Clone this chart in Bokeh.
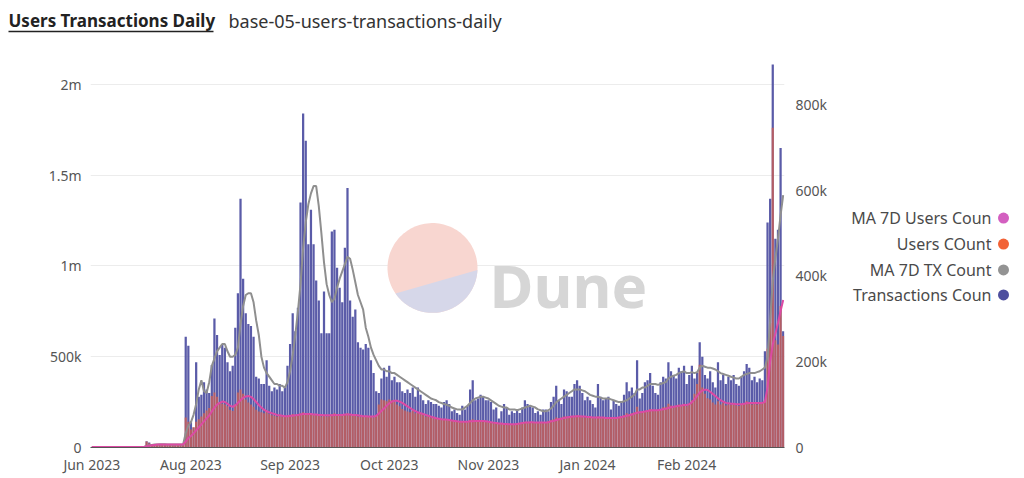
import numpy as np
from bokeh.plotting import figure
from bokeh.models import Range1d, LinearAxis, FixedTicker
from bokeh.layouts import column, row
from bokeh.embed import file_html
from bokeh.resources import INLINE
from bokeh.core.properties import value

# ---------------- data (values in thousands, one per day) ----------------
title_main = "Users Transactions Daily"
title_sub = "base-05-users-transactions-daily"
tick_labels = ["Jun 2023", "Aug 2023", "Sep 2023", "Oct 2023", "Nov 2023", "Jan 2024", "Feb 2024"]
tick_every = 38
legend_labels = ["MA 7D Users Coun", "Users COunt", "MA 7D TX Count", "Transactions Coun"]
left_ticks = [0, 500, 1000, 1500, 2000]
left_tick_labels = ["0", "500k", "1m", "1.5m", "2m"]
right_ticks = [0, 200, 400, 600, 800]
right_tick_labels = ["0", "200k", "400k", "600k", "800k"]

tx_k = [
    3, 3, 4, 3, 3, 4, 3, 3, 4, 3,
    3, 4, 3, 3, 4, 3, 3, 4, 3, 3,
    4, 35, 28, 16, 17, 15, 16, 18, 17, 16,
    15, 17, 18, 16, 17, 19, 610, 560, 145, 110,
    470, 280, 290, 360, 320, 300, 455, 710, 620, 510,
    570, 550, 470, 420, 450, 660, 850, 1370, 930, 740,
    680, 670, 610, 390, 380, 350, 350, 480, 340, 310,
    330, 320, 350, 310, 330, 450, 570, 740, 640, 770,
    1350, 1840, 1690, 1120, 1310, 1120, 920, 810, 630, 860,
    630, 630, 1190, 1200, 990, 880, 800, 1100, 1430, 810,
    720, 760, 580, 550, 540, 570, 550, 480, 410, 310,
    300, 380, 440, 390, 450, 370, 390, 360, 360, 310,
    300, 320, 300, 330, 280, 330, 290, 260, 240, 260,
    250, 240, 240, 230, 220, 250, 260, 240, 200, 210,
    190, 180, 230, 210, 230, 320, 370, 260, 270, 290,
    280, 260, 260, 250, 210, 220, 160, 200, 240, 220,
    180, 200, 190, 210, 190, 220, 260, 240, 230, 220,
    190, 200, 180, 210, 210, 200, 250, 280, 340, 260,
    240, 320, 310, 280, 280, 350, 370, 340, 300, 260,
    280, 260, 240, 220, 350, 280, 260, 270, 280, 210,
    260, 240, 230, 250, 290, 360, 310, 330, 300, 480,
    270, 300, 360, 370, 410, 340, 300, 290, 360, 390,
    380, 470, 420, 400, 380, 440, 420, 450, 350, 400,
    450, 380, 410, 580, 500, 400, 380, 420, 360, 330,
    470, 370, 400, 350, 390, 370, 400, 350, 340, 390,
    420, 460, 440, 370, 390, 360, 380, 370, 530, 1240,
    1370, 2110, 1150, 1200, 1650, 640,
]

users_k = [
    1, 1, 1, 1, 1, 1, 1, 1, 1, 1,
    1, 1, 1, 1, 1, 1, 1, 1, 1, 1,
    1, 14, 10, 7, 7, 6, 7, 8, 7, 6,
    6, 7, 8, 7, 7, 8, 70, 60, 42, 48,
    60, 66, 72, 80, 86, 92, 120, 128, 118, 105,
    102, 100, 96, 88, 85, 100, 128, 135, 125, 112,
    105, 100, 95, 88, 84, 82, 80, 85, 78, 75,
    74, 72, 74, 72, 72, 74, 76, 78, 75, 76,
    80, 82, 80, 76, 78, 77, 75, 74, 72, 76,
    72, 73, 78, 80, 77, 76, 75, 78, 80, 75,
    74, 75, 72, 72, 71, 72, 73, 71, 70, 76,
    100, 112, 110, 108, 112, 110, 106, 100, 96, 90,
    86, 84, 82, 85, 80, 82, 78, 76, 72, 74,
    70, 68, 68, 66, 65, 67, 66, 64, 62, 62,
    60, 60, 60, 59, 60, 64, 66, 62, 61, 62,
    60, 60, 59, 58, 57, 58, 55, 56, 57, 55,
    53, 54, 55, 56, 55, 58, 60, 60, 59, 58,
    57, 58, 57, 58, 59, 62, 64, 66, 70, 68,
    70, 72, 72, 71, 72, 74, 75, 73, 72, 70,
    71, 70, 69, 68, 72, 70, 69, 70, 70, 68,
    69, 68, 70, 72, 76, 80, 78, 80, 82, 95,
    80, 82, 85, 86, 90, 88, 86, 85, 90, 94,
    95, 102, 98, 96, 95, 100, 98, 102, 96, 100,
    110, 125, 148, 193, 140, 125, 115, 112, 105, 100,
    108, 100, 104, 98, 100, 99, 102, 98, 97, 100,
    104, 108, 106, 100, 102, 100, 103, 104, 110, 230,
    290, 745, 250, 240, 330, 260,
]

ma_tx_k = [
    3, 3, 3, 3, 3, 3, 3, 3, 3, 3,
    3, 3, 3, 3, 3, 3, 3, 3, 3, 3,
    3, 8, 12, 14, 16, 17, 18, 18, 18, 17,
    17, 17, 17, 17, 17, 17, 80, 120, 140, 180,
    240, 320, 370, 310, 300, 360, 450, 490, 530, 550,
    570, 570, 530, 500, 500, 510, 550, 680, 780, 840,
    850, 850, 800, 700, 620, 500, 440, 410, 390, 370,
    350, 350, 340, 340, 330, 360, 420, 510, 620, 750,
    900, 1100, 1240, 1340, 1400, 1440, 1440, 1330, 1180, 1020,
    900, 840, 800, 820, 880, 930, 970, 1010, 1050, 1040,
    980, 910, 840, 800, 760, 660, 610, 550, 510, 480,
    450, 430, 430, 420, 420, 410, 410, 400, 390, 380,
    370, 360, 350, 340, 330, 320, 310, 300, 290, 280,
    270, 265, 260, 250, 245, 240, 235, 230, 220, 215,
    210, 210, 210, 220, 230, 245, 260, 270, 275, 280,
    280, 275, 270, 260, 250, 240, 230, 225, 220, 220,
    210, 210, 210, 205, 210, 215, 220, 225, 230, 225,
    220, 210, 205, 200, 200, 205, 215, 230, 250, 260,
    270, 280, 290, 300, 310, 320, 320, 320, 315, 310,
    300, 290, 285, 280, 280, 275, 270, 270, 270, 265,
    260, 255, 250, 250, 255, 260, 270, 280, 290, 320,
    320, 330, 330, 340, 350, 350, 350, 345, 350, 355,
    360, 380, 390, 395, 400, 410, 415, 420, 410, 410,
    415, 410, 415, 440, 450, 445, 440, 440, 435, 430,
    420, 410, 405, 400, 395, 390, 385, 380, 380, 390,
    400, 405, 410, 410, 410, 415, 420, 430, 440, 500,
    700, 920, 1040, 1150, 1280, 1390,
]

ma_users_k = [
    1, 1, 1, 1, 1, 1, 1, 1, 1, 1,
    1, 1, 1, 1, 1, 1, 1, 1, 1, 1,
    1, 3, 4, 5, 6, 7, 7, 7, 7, 7,
    7, 7, 7, 7, 7, 7, 14, 22, 27, 33,
    40, 47, 54, 61, 68, 75, 84, 93, 100, 104,
    107, 106, 102, 97, 95, 98, 104, 110, 116, 119,
    120, 118, 113, 106, 99, 93, 88, 85, 82, 80,
    78, 76, 75, 74, 73, 73, 74, 74, 75, 76,
    77, 78, 78, 78, 78, 77, 77, 76, 76, 75,
    75, 75, 75, 76, 76, 76, 76, 77, 77, 77,
    76, 76, 75, 74, 73, 73, 72, 72, 72, 74,
    79, 85, 91, 97, 103, 107, 109, 109, 107, 104,
    100, 96, 92, 88, 85, 82, 80, 78, 76, 74,
    72, 70, 68, 67, 66, 65, 65, 64, 63, 62,
    61, 60, 60, 60, 60, 61, 61, 62, 62, 62,
    62, 61, 60, 59, 58, 57, 56, 56, 55, 55,
    54, 54, 54, 55, 56, 57, 58, 58, 59, 59,
    58, 58, 58, 58, 58, 59, 61, 62, 64, 66,
    67, 69, 70, 71, 72, 72, 73, 73, 72, 72,
    71, 71, 70, 70, 70, 70, 70, 69, 69, 69,
    69, 69, 70, 71, 72, 74, 75, 77, 79, 81,
    82, 83, 84, 85, 86, 87, 87, 87, 88, 89,
    90, 92, 94, 95, 96, 97, 98, 99, 99, 101,
    105, 112, 120, 128, 133, 135, 134, 130, 125, 120,
    115, 110, 107, 104, 103, 102, 102, 101, 101, 101,
    102, 103, 104, 104, 104, 104, 104, 104, 106, 140,
    200, 240, 265, 290, 318, 344,
]

# ---------------- style ----------------
FONT = "Noto Sans"
TX_BLUE = "#5a5ba8"
USER_RED = "#ee5f3a"
MA_TX_GRAY = "#8f8f8f"
MA_USER_PINK = "#dc4aa4"
LEG_COLORS = ["#d35fc0", "#f26236", "#939393", "#4e4f9e"]
LABEL_COLOR = "#555555"

N = len(tx_k)
LEFT_MAX = 2132
RIGHT_MAX = 902

TITLE_H = 42
W_MAIN, H_MAIN = 840, 434
BL, BR, BT, BB = 90, 56, 18, 28
FW, FH = W_MAIN - BL - BR, H_MAIN - BT - BB
FRAME_BOTTOM = TITLE_H + H_MAIN - BB

p = figure(width=W_MAIN, height=H_MAIN, output_backend="svg", toolbar_location=None,
           x_range=Range1d(-0.5, N - 0.5), y_range=Range1d(0, LEFT_MAX),
           min_border_left=BL, min_border_right=BR, min_border_top=BT, min_border_bottom=BB)
p.extra_y_ranges = {"users": Range1d(0, RIGHT_MAX)}
p.outline_line_color = None
p.background_fill_color = "white"
p.border_fill_color = "white"

# watermark (page pixel positions -> data coordinates)
def fx(px):
    return -0.5 + (px - BL) * N / FW

def fy(py):
    return (FRAME_BOTTOM - py) * LEFT_MAX / FH

cxp, cyp, rp = 432, 268, 45
t = np.linspace(0, 2 * np.pi, 120)
p.patch([fx(cxp + rp * np.cos(a)) for a in t], [fy(cyp - rp * np.sin(a)) for a in t],
        color="#f8d6d0", line_color=None)
t2 = np.linspace(np.radians(214.7), np.radians(357.3), 60)
p.patch([fx(cxp + rp * np.cos(a)) for a in t2], [fy(cyp - rp * np.sin(a)) for a in t2],
        color="#d6d7e9", line_color=None)
p.text(x=[fx(489)], y=[fy(285)], text=["Dune"], text_font=value(FONT),
       text_font_style="bold", text_font_size="60px", text_color="#d6d6d6",
       text_baseline="alphabetic", text_align="left")

# bars and lines
p.vbar(x=list(range(len(tx_k))), top=tx_k, width=0.86, color=TX_BLUE, line_color=None)
p.vbar(x=list(range(len(users_k))), top=users_k, width=0.86, color=USER_RED, alpha=0.6,
       line_color=None, y_range_name="users")
p.line(x=list(range(len(ma_tx_k))), y=ma_tx_k, line_color=MA_TX_GRAY, line_width=2)
p.line(x=list(range(len(ma_users_k))), y=ma_users_k, line_color=MA_USER_PINK, line_width=2,
       y_range_name="users")

# axes
xa = p.xaxis[0]
xticks = [i * tick_every for i in range(len(tick_labels))]
xa.ticker = FixedTicker(ticks=xticks)
xa.major_label_overrides = {tk: lab for tk, lab in zip(xticks, tick_labels)}
xa.axis_line_color = "#555555"
xa.major_label_standoff = 7

ya = p.yaxis[0]
ya.ticker = FixedTicker(ticks=left_ticks)
ya.major_label_overrides = {tk: lab for tk, lab in zip(left_ticks, left_tick_labels)}
ya.axis_line_color = None
ya.major_label_standoff = 9

ra = LinearAxis(y_range_name="users", ticker=FixedTicker(ticks=right_ticks))
ra.major_label_overrides = {tk: lab for tk, lab in zip(right_ticks, right_tick_labels)}
ra.axis_line_color = None
ra.major_label_standoff = 11
p.add_layout(ra, "right")

for ax in (xa, ya, ra):
    ax.major_tick_line_color = None
    ax.minor_tick_line_color = None
    ax.major_tick_out = 0
    ax.major_tick_in = 0
    ax.minor_tick_out = 0
    ax.minor_tick_in = 0
    ax.major_label_text_font = FONT
    ax.major_label_text_font_size = "14px"
    ax.major_label_text_color = LABEL_COLOR

p.xgrid.grid_line_color = None
p.ygrid.ticker = FixedTicker(ticks=left_ticks[1:])
p.ygrid.grid_line_color = "#ececec"
p.ygrid.grid_line_width = 1

# ---------------- title strip ----------------
pt = figure(width=1020, height=TITLE_H, output_backend="svg", toolbar_location=None,
            x_range=Range1d(0, 1020), y_range=Range1d(0, TITLE_H),
            x_axis_location=None, y_axis_location=None, min_border=0)
pt.outline_line_color = None
pt.grid.visible = False
pt.text(x=[8], y=[TITLE_H - 20], text=[title_main], text_font=value(FONT), text_font_style="bold",
        text_font_size="17px", text_color="#222222", text_baseline="middle")
pt.segment(x0=[8], y0=[TITLE_H - 31], x1=[213], y1=[TITLE_H - 31], line_color="#222222",
           line_width=1.5)
pt.text(x=[228], y=[TITLE_H - 20], text=[title_sub], text_font=value(FONT),
        text_font_size="18px", text_color="#333333", text_baseline="middle")

# ---------------- legend panel (frame aligned with the main frame) ----------------
LW = 180
pl = figure(width=LW, height=H_MAIN, output_backend="svg", toolbar_location=None,
            x_range=Range1d(W_MAIN, W_MAIN + LW), y_range=Range1d(0, FH),
            x_axis_location=None, y_axis_location=None,
            min_border_left=0, min_border_right=0, min_border_top=BT, min_border_bottom=BB)
pl.outline_line_color = None
pl.grid.visible = False
ly = [FRAME_BOTTOM - yy for yy in (218, 244, 270, 295)]
pl.text(x=[991] * 4, y=ly, text=legend_labels, text_font=value(FONT),
        text_font_size="16px", text_color="#4a4a4a", text_baseline="middle", text_align="right")
pl.scatter(x=[1003] * 4, y=ly, size=11, color=LEG_COLORS, line_color=None)

layout = column(pt, row(p, pl))
open("out.html", "w").write(file_html(layout, INLINE))
